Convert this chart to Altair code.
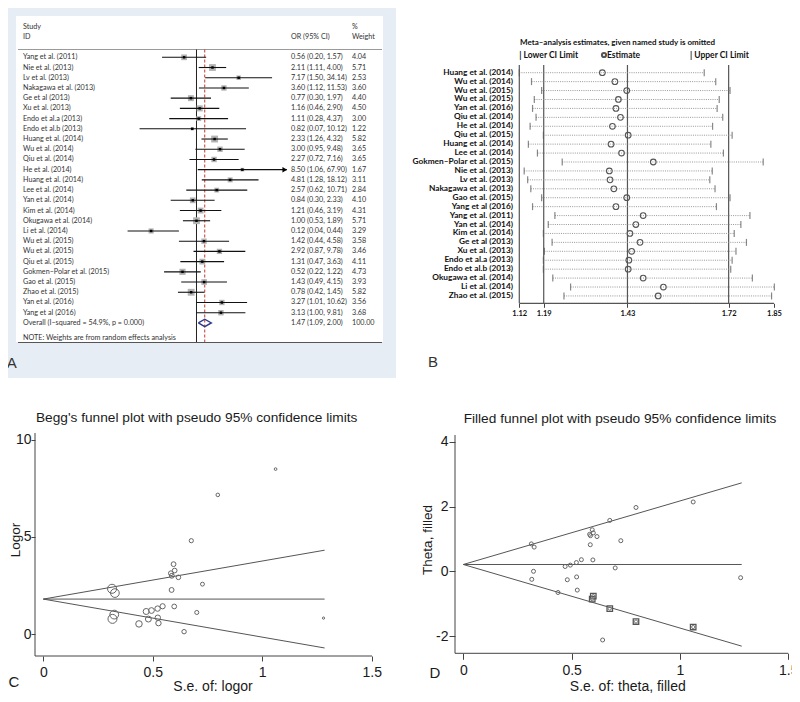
import altair as alt
import pandas as pd

# ---------------- Panel A: forest plot data ----------------
forest_studies = ["Yang et al. (2011)", "Nie et al. (2013)", "Lv et al. (2013)", "Nakagawa et al. (2013)",
                  "Ge et al (2013)", "Xu et al. (2013)", "Endo et al.a (2013)", "Endo et al.b (2013)",
                  "Huang et al. (2014)", "Wu et al. (2014)", "Qiu et al. (2014)", "He et al. (2014)",
                  "Huang et al. (2014)", "Lee et al. (2014)", "Yan et al. (2014)", "Kim et al. (2014)",
                  "Okugawa et al. (2014)", "Li et al. (2014)", "Wu et al. (2015)", "Wu et al. (2015)",
                  "Qiu et al. (2015)", "Gokmen\u2013Polar et al. (2015)", "Gao et al. (2015)", "Zhao et al. (2015)",
                  "Yan et al. (2016)", "Yang et al (2016)"]
forest_or = [0.56, 2.11, 7.17, 3.60, 0.77, 1.16, 1.11, 0.82, 2.33, 3.00, 2.27, 8.50, 4.81, 2.57,
             0.84, 1.21, 1.00, 0.12, 1.42, 2.92, 1.31, 0.52, 1.43, 0.78, 3.27, 3.13]
forest_lo = [0.20, 1.11, 1.50, 1.12, 0.30, 0.46, 0.28, 0.07, 1.26, 0.95, 0.72, 1.06, 1.28, 0.62,
             0.30, 0.46, 0.53, 0.04, 0.44, 0.87, 0.47, 0.22, 0.49, 0.42, 1.01, 1.00]
forest_hi = [1.57, 4.00, 34.14, 11.53, 1.97, 2.90, 4.37, 10.12, 4.32, 9.48, 7.16, 67.90, 18.12, 10.71,
             2.33, 3.19, 1.89, 0.44, 4.58, 9.78, 3.63, 1.22, 4.15, 1.45, 10.62, 9.81]
forest_weight = [4.04, 5.71, 2.53, 3.60, 4.40, 4.50, 3.00, 1.22, 5.82, 3.65, 3.65, 1.67, 3.11, 2.84,
                 4.10, 4.31, 5.71, 3.29, 3.58, 3.46, 4.11, 4.73, 3.93, 5.82, 3.56, 3.68]
overall_label = "Overall  (I\u2013squared = 54.9%, p = 0.000)"
overall_or = 1.47
overall_lo = 1.09
overall_hi = 2.00
overall_weight = "100.00"
forest_ticks = [0.0147, 1, 67.9]
note_text = "NOTE: Weights are from random effects analysis"

# ---------------- Panel B: leave-one-out data ----------------
influence_studies = ["Huang et al. (2014)", "Wu et al. (2014)", "Wu et al. (2015)", "Wu et al. (2015)",
                     "Yan et al. (2016)", "Qiu et al. (2014)", "He et al. (2014)", "Qiu et al. (2015)",
                     "Huang et al. (2014)", "Lee et al. (2014)", "Gokmen\u2013Polar et al. (2015)",
                     "Nie et al. (2013)", "Lv et al. (2013)", "Nakagawa et al. (2013)", "Gao et al. (2015)",
                     "Yang et al (2016)", "Yang et al. (2011)", "Yan et al. (2014)", "Kim et al. (2014)",
                     "Ge et al (2013)", "Xu et al. (2013)", "Endo et al.a (2013)", "Endo et al.b (2013)",
                     "Okugawa et al. (2014)", "Li et al. (2014)", "Zhao et al. (2015)"]
influence_est = [1.358, 1.394, 1.428, 1.404, 1.397, 1.410, 1.387, 1.432, 1.383, 1.413, 1.504, 1.378, 1.380,
                 1.391, 1.428, 1.397, 1.475, 1.454, 1.437, 1.466, 1.442, 1.434, 1.432, 1.475, 1.533, 1.518]
influence_lo = [1.120, 1.155, 1.184, 1.163, 1.158, 1.168, 1.151, 1.189, 1.146, 1.172, 1.243, 1.134, 1.144,
                1.153, 1.184, 1.158, 1.222, 1.203, 1.189, 1.214, 1.192, 1.189, 1.189, 1.216, 1.267, 1.248]
influence_hi = [1.650, 1.683, 1.724, 1.693, 1.687, 1.703, 1.674, 1.730, 1.669, 1.705, 1.819, 1.673, 1.666,
                1.681, 1.724, 1.685, 1.781, 1.755, 1.736, 1.771, 1.741, 1.730, 1.726, 1.788, 1.851, 1.843]
influence_ticks = [1.12, 1.19, 1.43, 1.72, 1.85]
influence_refs = [1.19, 1.43, 1.72]

# ---------------- Panels C / D: funnel plots ----------------
study_se = [0.526, 0.327, 0.797, 0.595, 0.480, 0.470, 0.701, 1.280, 0.314, 0.587, 0.586, 1.061, 0.676,
            0.727, 0.523, 0.494, 0.324, 0.643, 0.598, 0.617, 0.522, 0.437, 0.545, 0.316, 0.600, 0.583]
study_theta = [-0.580, 0.747, 1.970, 1.281, -0.261, 0.148, 0.104, -0.198, 0.846, 1.099, 0.820, 2.140, 1.571,
               0.944, -0.174, 0.191, 0.000, -2.120, 0.351, 1.072, 0.270, -0.654, 0.358, -0.248, 1.185, 1.141]
filled_se = [0.595, 0.600, 0.676, 0.797, 1.061]
filled_theta = [-0.861, -0.765, -1.151, -1.550, -1.720]
limit_se = [0.0, 1.285]
begg_mid = [1.80, 1.80]
begg_up = [1.80, 4.32]
begg_low = [1.80, -0.72]
trim_mid = [0.21, 0.21]
trim_up = [0.21, 2.73]
trim_low = [0.21, -2.31]
c_xticks = [0, 0.5, 1, 1.5]
c_yticks = [0, 5, 10]
d_yticks = [-2, 0, 2, 4]

# ---------------- helpers ----------------
FA = "Lato"
FS = "Liberation Sans"
TXT = "#333333"
W, H_TOP, H_BOT = 400, 392, 310
one = pd.DataFrame({"k": [0]})


def label(text, x, y, **kw):
    props = dict(font=FA, fontSize=7.2, color=TXT, align="left", baseline="middle")
    props.update(kw)
    return alt.Chart(one).mark_text(text=text, **props).encode(x=alt.value(x), y=alt.value(y))


def hline(x1, x2, y, **kw):
    return alt.Chart(one).mark_rule(**kw).encode(x=alt.value(x1), x2=alt.value(x2), y=alt.value(y))


def vline(x, y1, y2, **kw):
    return alt.Chart(one).mark_rule(**kw).encode(x=alt.value(x), y=alt.value(y1), y2=alt.value(y2))


# ================= Panel A =================
dfA = pd.DataFrame({"study": forest_studies, "or": forest_or, "lo": forest_lo,
                    "hi": forest_hi, "w": forest_weight})
dfA["row"] = list(range(len(dfA)))
dfA["or_txt"] = [f"{o:.2f} ({l:.2f}, {h:.2f})" for o, l, h in zip(forest_or, forest_lo, forest_hi)]
dfA["w_txt"] = [f"{w:.2f}" for w in forest_weight]
n_rows = len(dfA)
dfO = pd.DataFrame({"row": [n_rows], "label": [overall_label],
                    "or_txt": [f"{overall_or:.2f} ({overall_lo:.2f}, {overall_hi:.2f})"],
                    "w_txt": [overall_weight]})
dfD = pd.DataFrame({"x": [overall_lo, overall_or, overall_hi, overall_or, overall_lo],
                    "row": [n_rows, n_rows - 0.36, n_rows, n_rows + 0.36, n_rows],
                    "k": [0, 1, 2, 3, 4]})

xA = alt.Scale(type="log", domain=[1.0332e-4, 1.3424e4], nice=False)
yA = alt.Scale(domain=[-5.609, 32.763], reverse=True, nice=False, zero=False)
axA = alt.Axis(values=forest_ticks, offset=-50, domain=False, grid=False, tickSize=5, tickColor="#555555",
               labelFont=FA, labelFontSize=7, labelColor=TXT, labelPadding=1, labelFlush=False,
               labelOverlap=False, labelExpr="replace('' + datum.value, '0.', '.')", title=None)


def XA(f):
    return alt.X(f, type="quantitative", scale=xA, axis=axA)


def YA(f):
    return alt.Y(f, type="quantitative", scale=yA, axis=None)


a_layers = [
    alt.Chart(one).mark_rect(color="#e6edf4").encode(x=alt.value(0), x2=alt.value(396), y=alt.value(0), y2=alt.value(378)),
    alt.Chart(one).mark_rect(color="#ffffff").encode(x=alt.value(16), x2=alt.value(383), y=alt.value(16), y2=alt.value(342)),
    hline(18, 382, 49.5, color="#9a9a9a", strokeWidth=1),
    hline(18, 382, 342.5, color="#555555", strokeWidth=1),
    alt.Chart(pd.DataFrame({"x": [1.0]})).mark_rule(color="#222222", strokeWidth=1).encode(
        x=XA("x"), y=alt.value(49.5), y2=alt.value(342)),
    alt.Chart(pd.DataFrame({"x": [overall_or]})).mark_rule(color="#c0392b", strokeDash=[3, 2], strokeWidth=1).encode(
        x=XA("x"), y=alt.value(49.5), y2=alt.value(342)),
    alt.Chart(dfA).mark_square(color="#b3b3b3", opacity=1).encode(
        x=XA("or"), y=YA("row"),
        size=alt.Size("w:Q", scale=alt.Scale(domain=[0, 5.82], range=[0, 82]), legend=None)),
    alt.Chart(dfA).mark_rule(color="#111111", strokeWidth=1.1).encode(x=XA("lo"), x2="hi", y=YA("row")),
    alt.Chart(dfA).mark_square(color="#000000", size=6, opacity=1).encode(x=XA("or"), y=YA("row")),
    alt.Chart(dfA).transform_filter(f"datum.hi >= {forest_ticks[-1]}").mark_point(
        shape="triangle-right", filled=True, color="#000000", size=30, opacity=1, xOffset=-2).encode(
        x=XA("hi"), y=YA("row")),
    alt.Chart(dfD).mark_line(color="#2a3a8c", strokeWidth=1.4).encode(x=XA("x"), y=YA("row"), order="k:Q"),
    alt.Chart(dfA).mark_text(align="left", font=FA, fontSize=7.2, color=TXT).encode(
        x=alt.value(23), y=YA("row"), text="study:N"),
    alt.Chart(dfA).mark_text(align="left", font=FA, fontSize=7.2, color=TXT).encode(
        x=alt.value(291), y=YA("row"), text="or_txt:N"),
    alt.Chart(dfA).mark_text(align="left", font=FA, fontSize=7.2, color=TXT).encode(
        x=alt.value(352), y=YA("row"), text="w_txt:N"),
    alt.Chart(dfO).mark_text(align="left", font=FA, fontSize=7.2, color=TXT).encode(
        x=alt.value(23), y=YA("row"), text="label:N"),
    alt.Chart(dfO).mark_text(align="left", font=FA, fontSize=7.2, color=TXT).encode(
        x=alt.value(291), y=YA("row"), text="or_txt:N"),
    alt.Chart(dfO).mark_text(align="left", font=FA, fontSize=7.2, color=TXT).encode(
        x=alt.value(352), y=YA("row"), text="w_txt:N"),
    label("Study", 23, 26.7),
    label("ID", 23, 36.7),
    label("OR (95% CI)", 291, 36.7),
    label("%", 352, 26.7),
    label("Weight", 352, 36.7),
    label(note_text, 23, 337.5),
    label("A", 11.7, 363, font=FS, fontSize=15, align="center"),
]
panelA = alt.layer(*a_layers).properties(width=W, height=H_TOP)

# ================= Panel B =================
dfB = pd.DataFrame({"study": influence_studies, "est": influence_est, "lo": influence_lo, "hi": influence_hi})
dfB["row"] = list(range(len(dfB)))
xB = alt.Scale(domain=[0.7781, 1.9245], nice=False, zero=False)
yB = alt.Scale(domain=[-8.141, 35.756], reverse=True, nice=False, zero=False)
axB = alt.Axis(values=influence_ticks, offset=-88.7, domain=False, grid=False, tickSize=4, tickColor="#444444",
               labelFont=FA, labelFontWeight="bold", labelFontSize=7.5, labelColor="#111111", labelPadding=2,
               labelFlush=False, labelOverlap=False, labelExpr="'' + datum.value", title=None)


def XB(f):
    return alt.X(f, type="quantitative", scale=xB, axis=axB)


def YB(f):
    return alt.Y(f, type="quantitative", scale=yB, axis=None)


b_layers = [
    alt.Chart(pd.DataFrame({"x": [influence_ticks[0]] + influence_refs})).mark_rule(
        color="#555555", strokeWidth=1.2).encode(x=XB("x"), y=alt.value(65), y2=alt.value(303.3)),
    alt.Chart(pd.DataFrame({"lo": [influence_ticks[0]], "hi": [influence_ticks[-1]]})).mark_rule(
        color="#555555", strokeWidth=1.2).encode(x=XB("lo"), x2="hi", y=alt.value(303.3)),
    alt.Chart(dfB).mark_rule(color="#8c8c8c", strokeDash=[1, 1.2], strokeWidth=0.9).encode(
        x=XB("lo"), x2="hi", y=YB("row")),
    alt.Chart(dfB).mark_tick(orient="vertical", size=7, thickness=1.2, color="#555555").encode(x=XB("lo"), y=YB("row")),
    alt.Chart(dfB).mark_tick(orient="vertical", size=7, thickness=1.2, color="#555555").encode(x=XB("hi"), y=YB("row")),
    alt.Chart(dfB).mark_point(shape="circle", filled=False, size=32, color="#555555", strokeWidth=1.1, opacity=1).encode(
        x=XB("est"), y=YB("row")),
    alt.Chart(dfB).mark_text(align="right", font=FA, fontWeight="bold", fontSize=8.3, color="#111111").encode(
        x=alt.value(113), y=YB("row"), text="study:N"),
    label("Meta\u2013analysis estimates, given named study is omitted", 120, 42.7, fontWeight="bold",
          fontSize=8, color="#111111"),
    label("| Lower CI Limit", 119.3, 55, fontWeight="bold", fontSize=8.5, color="#111111"),
    alt.Chart(one).mark_point(shape="circle", filled=False, size=18, color="#555555", opacity=1).encode(
        x=alt.value(204), y=alt.value(55)),
    label("Estimate", 207, 55, fontWeight="bold", fontSize=8.5, color="#111111"),
    label("| Upper CI Limit", 290, 55, fontWeight="bold", fontSize=8.5, color="#111111"),
    label("B", 33, 361.7, font=FS, fontSize=15, align="center"),
]
panelB = alt.layer(*b_layers).properties(width=W, height=H_TOP)

# ================= Panel C =================
dfC = pd.DataFrame({"se": study_se, "logor": forest_or})
dfCL = pd.DataFrame({"se": limit_se * 3, "y": begg_mid + begg_up + begg_low,
                     "g": ["m", "m", "u", "u", "l", "l"]})
xC = alt.Scale(domain=[-0.1978, 1.6293], nice=False, zero=False)
yC = alt.Scale(domain=[-3.505, 12.474], nice=False, zero=False)
axCx = alt.Axis(values=c_xticks, offset=-46, domain=False, grid=False, tickSize=5, tickColor="#444444",
                labelFont=FS, labelFontSize=14, labelColor="#1a1a1a", labelPadding=4, labelFlush=False,
                labelOverlap=False, labelExpr="'' + datum.value", title=None)
axCy = alt.Axis(values=c_yticks, offset=-35, domain=False, grid=False, tickSize=4, tickColor="#444444",
                labelFont=FS, labelFontSize=14, labelColor="#1a1a1a", labelPadding=0, labelFlush=False,
                labelOverlap=False, labelExpr="'' + datum.value", title=None)
c_layers = [
    vline(35, 41, 264, color="#444444", strokeWidth=1),
    hline(35, 372, 264, color="#444444", strokeWidth=1),
    alt.Chart(dfCL).mark_line(color="#555555", strokeWidth=1).encode(
        x=alt.X("se:Q", scale=xC, axis=axCx), y=alt.Y("y:Q", scale=yC, axis=axCy), detail="g:N"),
    alt.Chart(dfC).transform_calculate(prec="1 / (datum.se * datum.se)").mark_point(
        shape="circle", filled=False, color="#666666", strokeWidth=1, opacity=1).encode(
        x=alt.X("se:Q", scale=xC, axis=axCx), y=alt.Y("logor:Q", scale=yC, axis=axCy),
        size=alt.Size("prec:Q", scale=alt.Scale(domain=[0, 10.14], range=[0, 225]), legend=None)),
    label("Begg's funnel plot with pseudo 95% confidence limits", 196.7, 26, font=FS, fontSize=13.7,
          color="#1a1a1a", align="center"),
    label("Logor", 15.5, 148, font=FS, fontSize=13.5, color="#1a1a1a", align="center", angle=270),
    label("S.e. of: logor", 213, 295, font=FS, fontSize=14, color="#1a1a1a", align="center"),
    label("C", 14, 289.7, font=FS, fontSize=15, color="#1a1a1a", align="center"),
]
panelC = alt.layer(*c_layers).properties(width=W, height=H_BOT)

# ================= Panel D =================
dfT = pd.DataFrame({"se": study_se, "theta": study_theta})
dfF = pd.DataFrame({"se": filled_se, "theta": filled_theta})
dfDL = pd.DataFrame({"se": limit_se * 3, "y": trim_mid + trim_up + trim_low,
                     "g": ["m", "m", "u", "u", "l", "l"]})
xDs = alt.Scale(domain=[-0.2922, 1.554], nice=False, zero=False)
yDs = alt.Scale(domain=[-4.034, 5.534], nice=False, zero=False)
axDx = alt.Axis(values=c_xticks, offset=-48.7, domain=False, grid=False, tickSize=6, tickColor="#444444",
                labelFont=FS, labelFontSize=14, labelColor="#1a1a1a", labelPadding=4, labelFlush=False,
                labelOverlap=False, labelExpr="'' + datum.value", title=None)
axDy = alt.Axis(values=d_yticks, offset=-55, domain=False, grid=False, tickSize=6, tickColor="#444444",
                labelFont=FS, labelFontSize=14, labelColor="#1a1a1a", labelPadding=1, labelFlush=False,
                labelOverlap=False, labelExpr="'' + datum.value", title=None)


def XD(f):
    return alt.X(f, type="quantitative", scale=xDs, axis=axDx)


def YD(f):
    return alt.Y(f, type="quantitative", scale=yDs, axis=axDy)


d_layers = [
    vline(55, 43, 261.3, color="#444444", strokeWidth=1),
    hline(55, 388.3, 261.3, color="#444444", strokeWidth=1),
    alt.Chart(dfDL).mark_line(color="#555555", strokeWidth=1).encode(x=XD("se"), y=YD("y"), detail="g:N"),
    alt.Chart(dfT).mark_point(shape="circle", filled=False, size=16, color="#666666", strokeWidth=1, opacity=1).encode(
        x=XD("se"), y=YD("theta")),
    alt.Chart(dfF).mark_point(shape="square", filled=False, size=30, color="#555555", strokeWidth=1.3, opacity=1).encode(
        x=XD("se"), y=YD("theta")),
    alt.Chart(dfF).mark_point(shape="circle", filled=False, size=10, color="#777777", strokeWidth=1, opacity=1).encode(
        x=XD("se"), y=YD("theta")),
    label("Filled funnel plot with pseudo 95% confidence limits", 220, 27.3, font=FS, fontSize=13.7,
          color="#1a1a1a", align="center"),
    label("Theta, filled", 28.3, 148, font=FS, fontSize=13.5, color="#1a1a1a", align="center", angle=270),
    label("S.e. of: theta, filled", 227.8, 295, font=FS, fontSize=14, color="#1a1a1a", align="center"),
    label("D", 35, 281.3, font=FS, fontSize=15, color="#1a1a1a", align="center"),
]
panelD = alt.layer(*d_layers).properties(width=W, height=H_BOT)

chart = alt.concat(panelA, panelB, panelC, panelD, columns=2, spacing=0, bounds="flush").properties(
    padding={"left": -8, "top": -8, "right": -8, "bottom": -8}
).configure_view(strokeWidth=0)

chart.save("out.html", embed_options={"renderer": "svg", "actions": False})
